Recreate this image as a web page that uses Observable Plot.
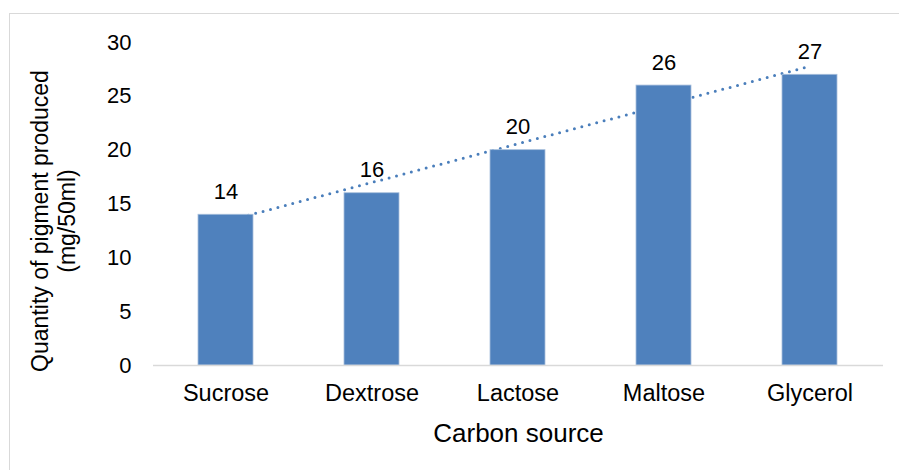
<!DOCTYPE html>
<html>
<head>
<meta charset="utf-8">
<script src="https://cdn.jsdelivr.net/npm/d3@7"></script>
<script src="https://cdn.jsdelivr.net/npm/@observablehq/plot@0.6"></script>
<style>
  html, body { margin: 0; padding: 0; background: #fff; }
  #wrap { position: relative; width: 899px; height: 470px; overflow: hidden; }
  #frame { position: absolute; left: 9px; top: 13px; width: 900px; height: 470px;
           border-left: 1.5px solid #d9d9d9; border-top: 1.5px solid #d9d9d9; box-sizing: border-box; }
  #chart { position: absolute; left: 0; top: 0; }
  svg text { font-family: "Liberation Sans", Arial, sans-serif; }
</style>
</head>
<body>
<div id="wrap"><div id="frame"></div><div id="chart"></div></div>
<script>
// Data
const categories = ["Sucrose", "Dextrose", "Lactose", "Maltose", "Glycerol"];
const values = [14, 16, 20, 26, 27];
const yTicks = [0, 5, 10, 15, 20, 25, 30];
// Linear trendline endpoints (as drawn in the reference)
const trendCategories = ["Sucrose", "Glycerol"];
const trendValues = [13.4, 27.8];

const bars = categories.map((c, i) => ({category: c, value: values[i]}));
const trend = trendCategories.map((c, i) => ({category: c, value: trendValues[i]}));

const barColor = "#4f81bd";
const trendColor = "#4a7ebb";

const chart = Plot.plot({
  width: 899,
  height: 470,
  marginLeft: 153,
  marginRight: 16,
  marginTop: 42,
  marginBottom: 105,
  style: {fontFamily: "'Liberation Sans', Arial, sans-serif", background: "transparent", overflow: "visible"},
  x: {domain: categories, paddingInner: 0.62, paddingOuter: 0.31},
  y: {domain: [0, 30]},
  marks: [
    Plot.line(trend, {x: "category", y: "value", stroke: trendColor, strokeWidth: 3,
      strokeDasharray: "0,7.67", strokeLinecap: "round"}),
    Plot.barY(bars, {x: "category", y: "value", fill: barColor, stroke: "#a7bfdc", strokeWidth: 0.8}),
    Plot.ruleY([0], {stroke: "#d9d9d9", strokeWidth: 1.5}),
    Plot.text(bars, {x: "category", y: "value", text: d => String(d.value), dy: -23,
      lineAnchor: "middle", fontSize: 22, fill: "#000"}),
    Plot.axisY(yTicks, {tickSize: 0, tickPadding: 22, fontSize: 22, label: null, color: "#000"}),
    Plot.axisX({tickSize: 0, tickPadding: 19, fontSize: 23.5, label: null, color: "#000"}),
    Plot.text(["Carbon source"], {frameAnchor: "bottom", dy: 68, fontSize: 26, fill: "#000", lineAnchor: "middle"})
  ]
});
document.getElementById("chart").appendChild(chart);

// Y axis title (two lines, rotated)
const svg = d3.select(chart);
const yTitle = svg.append("text")
  .attr("transform", "translate(54,221) rotate(-90)")
  .attr("text-anchor", "middle")
  .attr("font-size", 23)
  .attr("fill", "#000");
yTitle.append("tspan").attr("x", 0).attr("y", -6).text("Quantity of pigment produced");
yTitle.append("tspan").attr("x", 0).attr("y", 21).text("(mg/50ml)");
</script>
</body>
</html>
